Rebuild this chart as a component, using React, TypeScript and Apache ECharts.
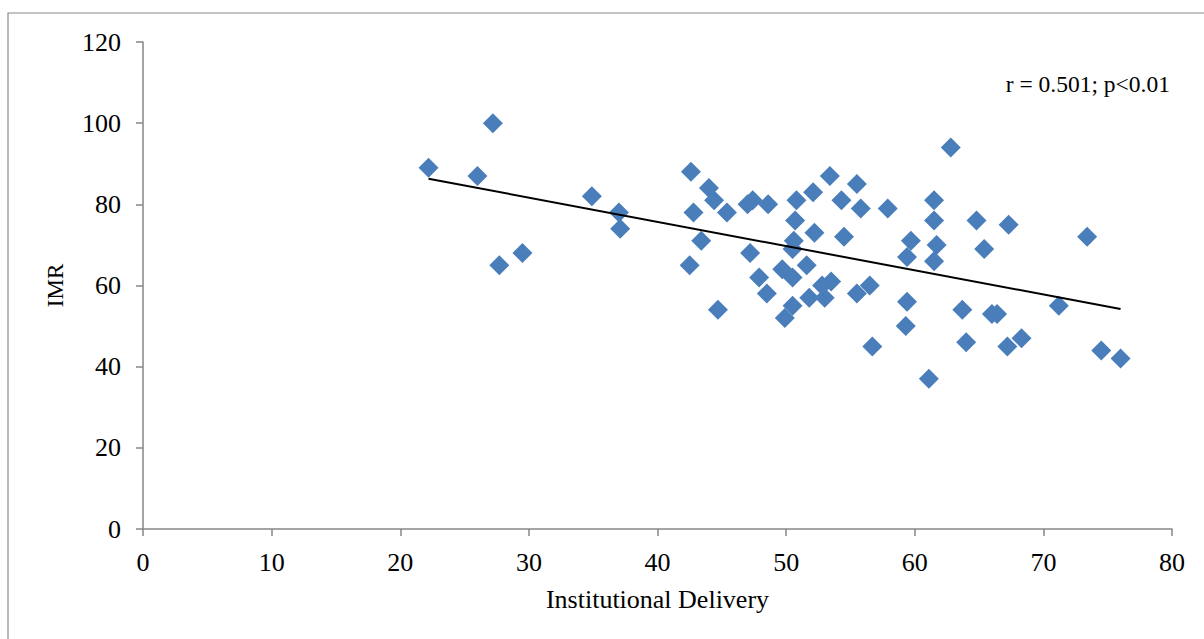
import React, { useEffect, useRef } from "react";
import * as echarts from "echarts";

const deliveryValues = [
  22.2, 26.0, 27.2, 27.7, 29.5, 34.9, 37.0, 37.1, 42.6, 42.8, 42.5, 43.4, 44.0, 44.4, 44.7, 45.4,
  47.0, 47.4, 47.2, 47.9, 48.6, 48.5, 49.9, 49.7, 50.5, 50.5, 50.5, 50.6, 50.7, 50.8, 51.6, 51.8,
  52.1, 52.2, 52.8, 53.0, 53.4, 53.5, 54.3, 54.5, 55.5, 55.5, 55.8, 56.5, 56.7, 57.9, 59.3, 59.4,
  59.4, 59.7, 62.8, 61.1, 61.5, 61.5, 61.5, 61.7, 63.7, 64.0, 64.8, 65.4, 66.0, 66.4, 67.2, 67.3,
  68.3, 71.2, 73.4, 74.5, 76.0,
];
const imrValues = [
  89, 87, 100, 65, 68, 82, 78, 74, 88, 78, 65, 71, 84, 81, 54, 78,
  80, 81, 68, 62, 80, 58, 52, 64, 62, 55, 69, 71, 76, 81, 65, 57,
  83, 73, 60, 57, 87, 61, 81, 72, 85, 58, 79, 60, 45, 79, 50, 56,
  67, 71, 94, 37, 66, 81, 76, 70, 54, 46, 76, 69, 53, 53, 45, 75,
  47, 55, 72, 44, 42,
];
const trendX = [22.2, 76.0];
const trendY = [86.3, 54.2];
const xTicks = { min: 0, max: 80, interval: 10 };
const yTicks = { min: 0, max: 120, interval: 20 };
const annotation = "r = 0.501; p<0.01";
const xName = "Institutional Delivery";
const yName = "IMR";

const FONT = '"Liberation Serif", "Times New Roman", serif';

export default function App() {
  const ref = useRef<HTMLDivElement>(null);
  useEffect(() => {
    document.body.style.margin = "0";
    const chart = echarts.init(ref.current!, null, { renderer: "svg" });
    const axisLine = { show: true, lineStyle: { color: "#868686", width: 1.5 } };
    chart.setOption({
      animation: false,
      backgroundColor: "#ffffff",
      grid: { left: 143, right: 32, top: 42, bottom: 110, containLabel: false },
      graphic: [
        {
          type: "rect",
          z: -10,
          shape: { x: 8, y: 13, width: 1400, height: 900 },
          style: { fill: "none", stroke: "#8a8a8a", lineWidth: 1.2 },
        },
        {
          type: "text",
          x: 1170,
          y: 84,
          style: {
            text: annotation,
            align: "right",
            verticalAlign: "middle",
            font: `23.5px ${FONT}`,
            fill: "#000",
          },
        },
      ],
      xAxis: {
        type: "value",
        min: xTicks.min,
        max: xTicks.max,
        interval: xTicks.interval,
        name: xName,
        nameLocation: "middle",
        nameGap: 57,
        nameTextStyle: { fontFamily: FONT, fontSize: 26, color: "#000" },
        axisLine,
        axisTick: { show: true, length: 7, lineStyle: { color: "#868686", width: 1.5 } },
        axisLabel: { fontFamily: FONT, fontSize: 26, color: "#000", margin: 20 },
        splitLine: { show: false },
      },
      yAxis: {
        type: "value",
        min: yTicks.min,
        max: yTicks.max,
        interval: yTicks.interval,
        name: yName,
        nameLocation: "middle",
        nameGap: 76,
        nameRotate: 90,
        nameTextStyle: { fontFamily: FONT, fontSize: 23, color: "#000" },
        axisLine,
        axisTick: { show: true, length: 7, lineStyle: { color: "#868686", width: 1.5 } },
        axisLabel: { fontFamily: FONT, fontSize: 26, color: "#000", margin: 22 },
        splitLine: { show: false },
      },
      series: [
        {
          type: "scatter",
          symbol: "diamond",
          symbolSize: 20,
          itemStyle: { color: "#4A7EBB", opacity: 1 },
          data: deliveryValues.map((x, i) => [x, imrValues[i]]),
          z: 2,
        },
        {
          type: "line",
          data: trendX.map((x, i) => [x, trendY[i]]),
          symbol: "none",
          lineStyle: { color: "#000", width: 2 },
          z: 3,
        },
      ],
    });
    return () => chart.dispose();
  }, []);
  return <div ref={ref} style={{ width: 1204, height: 639 }} />;
}
